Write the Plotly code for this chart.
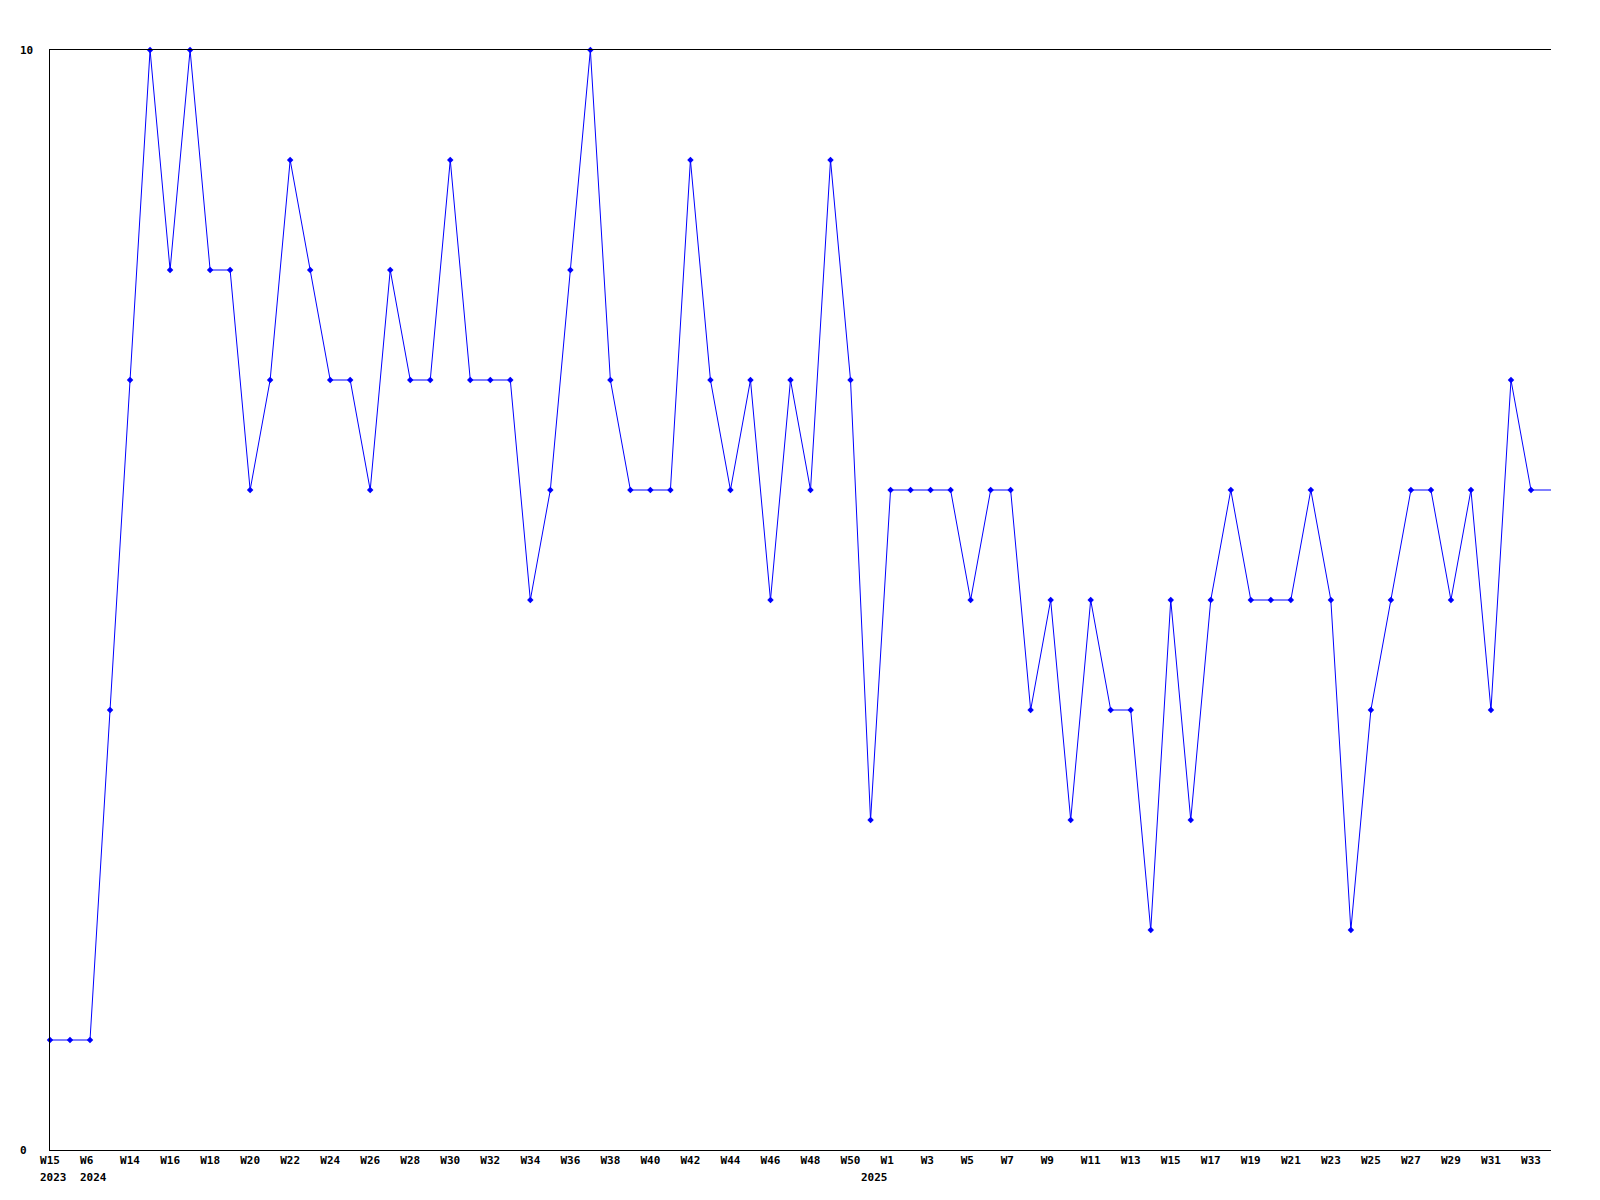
import plotly.graph_objects as go

# Weekly values (index 0 .. 75); the last value continues off the right edge
values = [1, 1, 1, 4, 7, 10, 8, 10, 8, 8,
          6, 7, 9, 8, 7, 7, 6, 8, 7, 7,
          9, 7, 7, 7, 5, 6, 8, 10, 7, 6,
          6, 6, 9, 7, 6, 7, 5, 7, 6, 9,
          7, 3, 6, 6, 6, 6, 5, 6, 6, 4,
          5, 3, 5, 4, 4, 2, 5, 3, 5, 6,
          5, 5, 5, 6, 5, 2, 4, 5, 6, 6,
          5, 6, 4, 7, 6, 6]

tick_labels = ["W15", "W6", "W14", "W16", "W18", "W20", "W22", "W24", "W26",
               "W28", "W30", "W32", "W34", "W36", "W38", "W40", "W42", "W44", "W46",
               "W48", "W50", "W1", "W3", "W5", "W7", "W9", "W11", "W13", "W15",
               "W17", "W19", "W21", "W23", "W25", "W27", "W29", "W31", "W33"]
year_labels = ["2023", "2024", "2025"]
year_positions = [0, 2, 42]
year_shifts = [0, 0, -20]
y_labels = ["0", "10"]
y_label_vals = [0, 10]

x = list(range(len(values)))
tick_vals = list(range(0, 2 * len(tick_labels), 2))

font_family = "DejaVu Sans Mono"


def pad(t):
    # left-align short labels in monospace (3-char cell)
    return t + "&nbsp;" * max(0, 3 - len(t))


fig = go.Figure()
fig.add_trace(go.Scatter(
    x=x, y=values, mode="lines",
    line=dict(color="#0000ff", width=1),
    cliponaxis=True, hoverinfo="skip", showlegend=False,
))
fig.add_trace(go.Scatter(
    x=x[:-1], y=values[:-1], mode="markers",
    marker=dict(symbol="diamond", size=5, color="#0000ff"),
    cliponaxis=False, showlegend=False,
))

for v, t in zip(y_label_vals, y_labels):
    fig.add_annotation(
        x=-0.0215, xref="paper", y=v, yref="y", text="<b>%s</b>" % t,
        showarrow=False, xanchor="left", yanchor="middle",
        font=dict(family=font_family, size=11, color="black"),
    )

for pos, t, s in zip(year_positions, year_labels, year_shifts):
    fig.add_annotation(
        x=pos, xref="x", y=0, yref="paper", text="<b>%s</b>" % t,
        showarrow=False, xanchor="left", yanchor="middle",
        xshift=-12 + s, yshift=-27,
        font=dict(family=font_family, size=11, color="black"),
    )

fig.update_layout(
    width=1584, height=1184,
    margin=dict(l=42, r=41, t=42, b=42),
    paper_bgcolor="white", plot_bgcolor="white",
    xaxis=dict(
        range=[0, 75], tickvals=tick_vals,
        ticktext=["<b>%s</b>" % pad(t) for t in tick_labels],
        showgrid=False, zeroline=False, ticks="",
        showline=True, linecolor="black", linewidth=1, mirror=True,
        tickfont=dict(family=font_family, size=11, color="black"),
        tickangle=0,
    ),
    yaxis=dict(
        range=[0, 10], showticklabels=False, showgrid=False, zeroline=False,
        ticks="", showline=True, linecolor="black", linewidth=1,
    ),
)

fig.write_html("out.html")
